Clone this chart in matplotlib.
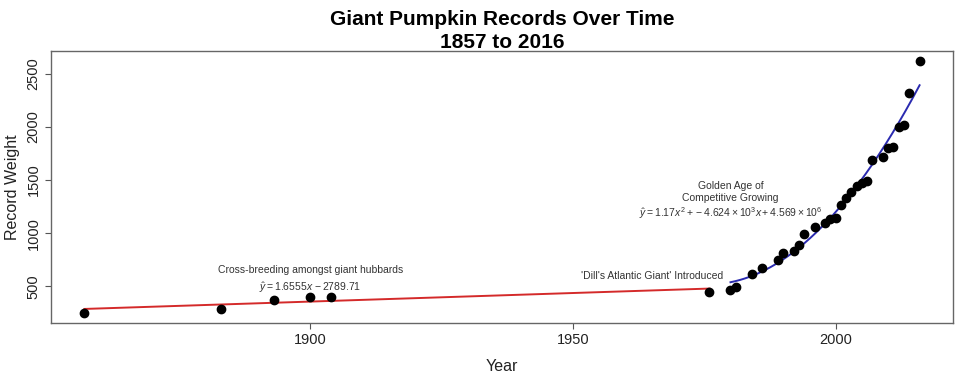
import matplotlib
matplotlib.use("Agg")
from matplotlib import pyplot as plt
import numpy as np

plt.rcParams['font.family'] = ['Liberation Sans', 'DejaVu Sans']
plt.rcParams['mathtext.fontset'] = 'custom'
plt.rcParams['mathtext.rm'] = 'Liberation Sans'
plt.rcParams['mathtext.it'] = 'Liberation Sans:italic'

# record weights (lbs) by year
years = [1857, 1883, 1893, 1900, 1904, 1976, 1980, 1981, 1984, 1986, 1989, 1990,
         1992, 1993, 1994, 1996, 1998, 1999, 2000, 2001, 2002, 2003, 2004, 2005,
         2006, 2007, 2009, 2010, 2011, 2012, 2013, 2014, 2016]
weights = [250, 290, 367, 402, 403, 449, 462, 494, 612, 673, 752, 816,
           828, 885, 990, 1061, 1093, 1130, 1138, 1262, 1333, 1387, 1447, 1476,
           1495, 1685, 1720, 1803, 1813, 2002, 2014, 2318, 2618]
split_year = 1980  # early era vs golden age

early_label = 'Cross-breeding amongst giant hubbards'
early_eq = r'$\hat{y} = 1.6555x\,-2789.71$'
dill_label = "'Dill's Atlantic Giant' Introduced"
golden_label = 'Golden Age of\nCompetitive Growing'
golden_eq = r'$\hat{y} = 1.17x^2 + -4.624\times10^3x + 4.569\times10^6$'

x = np.array(years, dtype=float)
y = np.array(weights, dtype=float)
early = x < split_year
late = ~early

lin = np.polyfit(x[early], y[early], 1)
quad = np.polyfit(x[late], y[late], 2)
xe = np.linspace(x[early].min(), x[early].max(), 50)
xl = np.linspace(x[late].min(), x[late].max(), 200)

fig = plt.figure(figsize=(9.8, 3.87), dpi=100)
ax = fig.add_axes([51/980, 1-323/387, (953-51)/980, (323-51)/387])

ax.plot(xe, np.polyval(lin, xe), color='#d42a2a', lw=1.4)
ax.plot(xl, np.polyval(quad, xl), color='#2a2ab0', lw=1.4)
ax.plot(x, y, 'o', color='black', ms=6)

# R style 4% padding
xr = x.max() - x.min()
yr = y.max() - y.min()
ax.set_xlim(x.min() - 0.04*xr, x.max() + 0.04*xr)
ax.set_ylim(y.min() - 0.04*yr, y.max() + 0.04*yr)

ax.set_xticks([1900, 1950, 2000])
ax.set_yticks([500, 1000, 1500, 2000, 2500])
for lab in ax.get_yticklabels():
    lab.set_rotation(90)
    lab.set_va('center')
ax.tick_params(colors='#555555', labelcolor='#222222', labelsize=10.5, length=4, width=0.8)
for s in ax.spines.values():
    s.set_color('#666666')
    s.set_linewidth(1)

ax.set_xlabel('Year', fontsize=11.5, color='#222222', labelpad=8)
ax.set_ylabel('Record Weight', fontsize=11.5, color='#222222', labelpad=5)
fig.suptitle('Giant Pumpkin Records Over Time\n1857 to 2016', fontsize=15,
             fontweight='bold', x=502/980, y=0.975, linespacing=1.3)

tc = '#333333'
fs = 7.5
ax.text(1900, 650, early_label, ha='center', va='center', fontsize=fs, color=tc)
ax.text(1900, 488, early_eq, ha='center', va='center', fontsize=fs, color=tc)
ax.text(1965, 594, dill_label, ha='center', va='center', fontsize=fs, color=tc)
ax.text(1980, 1386, golden_label, ha='center', va='center', fontsize=fs, color=tc,
        linespacing=1.3)
ax.text(1980, 1188, golden_eq, ha='center', va='center', fontsize=fs, color=tc)

fig.savefig('out.png', dpi=100)
